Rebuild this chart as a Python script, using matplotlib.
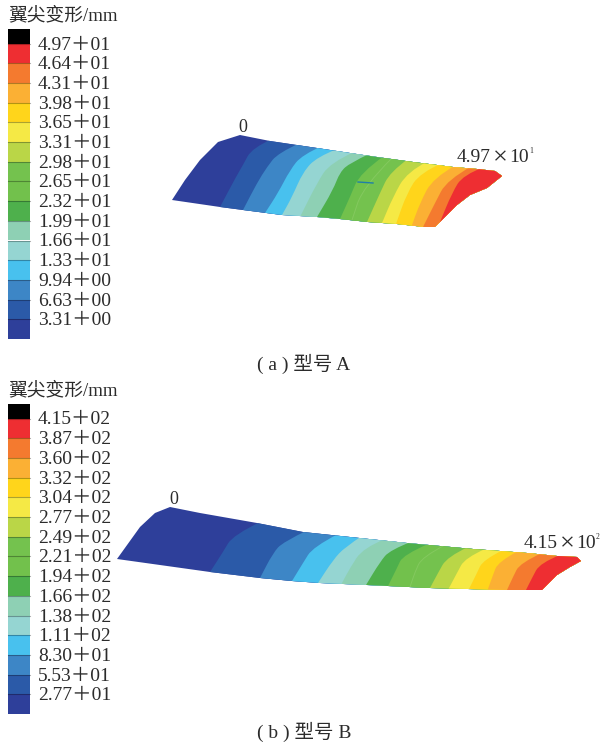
#!/usr/bin/env python3
import matplotlib
matplotlib.use('Agg')
import matplotlib.pyplot as plt
from matplotlib.patches import Polygon, PathPatch
from matplotlib.path import Path

plt.rcParams['font.family'] = ['Liberation Serif', 'Noto Sans CJK SC']

# band colours, root to tip
band_colors = ['#2e3f9a', '#2b5aa8', '#3d86c6', '#48c1ee', '#95d5d2', '#8ed0b4', '#4eb04c', '#72c14c',
               '#74c24e', '#bad647', '#f5e945', '#ffd51b', '#fbb034', '#f47a2f', '#ee2e32']

labels_a = ['4.97＋01', '4.64＋01', '4.31＋01', '3.98＋01', '3.65＋01', '3.31＋01', '2.98＋01', '2.65＋01',
            '2.32＋01', '1.99＋01', '1.66＋01', '1.33＋01', '9.94＋00', '6.63＋00', '3.31＋00']
labels_b = ['4.15＋02', '3.87＋02', '3.60＋02', '3.32＋02', '3.04＋02', '2.77＋02', '2.49＋02', '2.21＋02',
            '1.94＋02', '1.66＋02', '1.38＋02', '1.11＋02', '8.30＋01', '5.53＋01', '2.77＋01']

# wing outlines and contour lines, in image pixels
outline_a = [(172, 200), (185, 180), (200, 160), (218, 142), (240, 135), (270, 141), (317, 148), (350, 153),
             (377, 157), (413, 162), (453, 167), (477, 169), (495, 171), (502, 176), (487, 188), (470, 195),
             (457, 205), (440, 222), (435, 227), (425, 227), (397, 224), (368, 222), (340, 219), (317, 217),
             (282, 215), (243, 210), (220, 207)]
contours_a = [
    [(272, 139), (252, 148), (243, 165), (237, 175), (220, 207)],
    [(300, 143), (278, 153), (267, 167), (257, 183), (243, 210)],
    [(322, 146), (302, 155), (290, 170), (278, 193), (265, 213)],
    [(337, 149), (317, 157), (303, 172), (292, 197), (282, 215)],
    [(354, 152), (330, 163), (317, 183), (300, 217)],
    [(369, 154), (350, 163), (340, 172), (333, 190), (317, 217)],
    [(384, 156), (360, 173), (350, 197), (340, 219)],
    [(392, 158), (363, 187), (352, 220)],
    [(408, 159), (390, 172), (380, 193), (367, 222)],
    [(428, 161), (407, 172), (393, 197), (382, 223)],
    [(442, 163), (420, 173), (407, 193), (396, 224)],
    [(456, 165), (433, 178), (420, 203), (412, 225)],
    [(472, 166), (447, 180), (435, 203), (423, 227)],
    [(484, 167), (463, 175), (452, 193), (440, 222)],
]
outline_b = [(117, 559), (140, 527), (155, 513), (170, 507), (200, 513), (257, 523), (303, 532), (350, 537),
             (407, 543), (473, 549), (527, 553), (557, 556), (577, 557), (581, 561), (570, 567), (557, 575),
             (542, 590), (507, 590), (468, 589), (430, 588), (367, 585), (320, 583), (292, 581), (260, 578),
             (210, 572)]
contours_b = [
    [(262, 521), (233, 535), (223, 552), (210, 572)],
    [(308, 530), (283, 542), (273, 553), (260, 578)],
    [(338, 534), (313, 547), (303, 563), (292, 581)],
    [(362, 536), (345, 547), (333, 560), (318, 583)],
    [(385, 539), (363, 548), (350, 568), (342, 583)],
    [(413, 541), (390, 550), (380, 562), (366, 585)],
    [(428, 544), (403, 555), (397, 568), (388, 586)],
    [(445, 545), (422, 557), (415, 572), (410, 587)],
    [(468, 547), (447, 557), (438, 573), (430, 588)],
    [(485, 549), (465, 558), (457, 573), (449, 588)],
    [(503, 550), (483, 560), (477, 573), (469, 589)],
    [(518, 551), (498, 562), (493, 575), (488, 589)],
    [(542, 553), (520, 563), (513, 577), (507, 590)],
    [(560, 555), (540, 563), (532, 578), (526, 590)],
]
txt = '#2b2b2b'

fig = plt.figure(figsize=(6, 7.45), dpi=100)
ax = fig.add_axes([0, 0, 1, 1])
ax.set_xlim(0, 600)
ax.set_ylim(745, 0)
ax.axis('off')


def rounded(line):
    # quadratic curve through the midpoints, so the contours bend like the original
    verts, codes = [line[0]], [Path.MOVETO]
    for a, b in zip(line[1:-1], line[2:]):
        mid = ((a[0] + b[0]) / 2, (a[1] + b[1]) / 2)
        verts += [a, mid]
        codes += [Path.CURVE3, Path.CURVE3]
    verts.append(line[-1])
    codes.append(Path.LINETO)
    return verts, codes


def draw_wing(outline, contours):
    clip = Polygon(outline, closed=True, facecolor=band_colors[0], edgecolor='none')
    ax.add_patch(clip)
    for i, line in enumerate(contours):
        # fill from this contour to the tip, later bands paint over, clipped to the wing
        verts, codes = rounded(line)
        xb, yb = line[-1]
        xa, ya = line[-2]
        x0, y0 = line[0]
        verts = verts + [(xb + (xb - xa), yb + (yb - ya)), (610, yb + 30), (610, y0 - 30), (x0, y0 - 30), line[0]]
        codes = codes + [Path.LINETO, Path.LINETO, Path.LINETO, Path.LINETO, Path.CLOSEPOLY]
        p = PathPatch(Path(verts, codes), facecolor=band_colors[i + 1], edgecolor='none')
        ax.add_patch(p)
        p.set_clip_path(clip)
    # pale seam between the two middle greens
    verts, codes = rounded(contours[7])
    seam = PathPatch(Path(verts, codes), facecolor='none', edgecolor='#84c95f', lw=0.7)
    ax.add_patch(seam)
    seam.set_clip_path(clip)


def draw_legend(labels, title, title_y, top):
    step = 19.7
    ax.text(8, title_y, title, fontsize=13.5, color=txt, va='center', ha='left')
    ax.bar(19, 14.5, width=22, bottom=top - 14.5, color='#000000')
    for i, lab in enumerate(labels):
        y = top + i * step
        color = band_colors[len(labels) - 1 - i]
        ax.bar(19, step, width=22, bottom=y, color=color)
        ax.plot([8, 30], [y, y], color='#000000', alpha=0.3, lw=0.8)
        ax.text(38, y + 1.5, lab, fontsize=14, color=txt, va='center', ha='left')


def tip_label(x, y, value, power):
    ax.text(x, y, value, fontsize=14, color=txt, va='center', ha='left')
    ax.text(x + 36, y, '×', fontsize=19, color=txt, va='center', ha='left')
    ax.text(x + 52, y, '10', fontsize=14, color=txt, va='center', ha='left')
    ax.text(x + 72, y - 7, power, fontsize=5.5, color=txt, va='center', ha='left')


draw_wing(outline_a, contours_a)
ax.plot([358, 373], [182, 183], color='#1f7fa8', lw=1)
draw_legend(labels_a, '翼尖变形/mm', 15, 43.5)
ax.text(243, 127, '0', fontsize=13, color=txt, ha='center', va='center')
tip_label(457, 158, '4.97', '1')
ax.text(304, 364, '( a ) 型号 A', fontsize=14, color=txt, ha='center', va='center')

draw_wing(outline_b, contours_b)
draw_legend(labels_b, '翼尖变形/mm', 390, 418.5)
ax.text(174, 499, '0', fontsize=13, color=txt, ha='center', va='center')
tip_label(524, 544, '4.15', '2')
ax.text(304, 732, '( b ) 型号 B', fontsize=14, color=txt, ha='center', va='center')

fig.savefig('out.png', dpi=100)
